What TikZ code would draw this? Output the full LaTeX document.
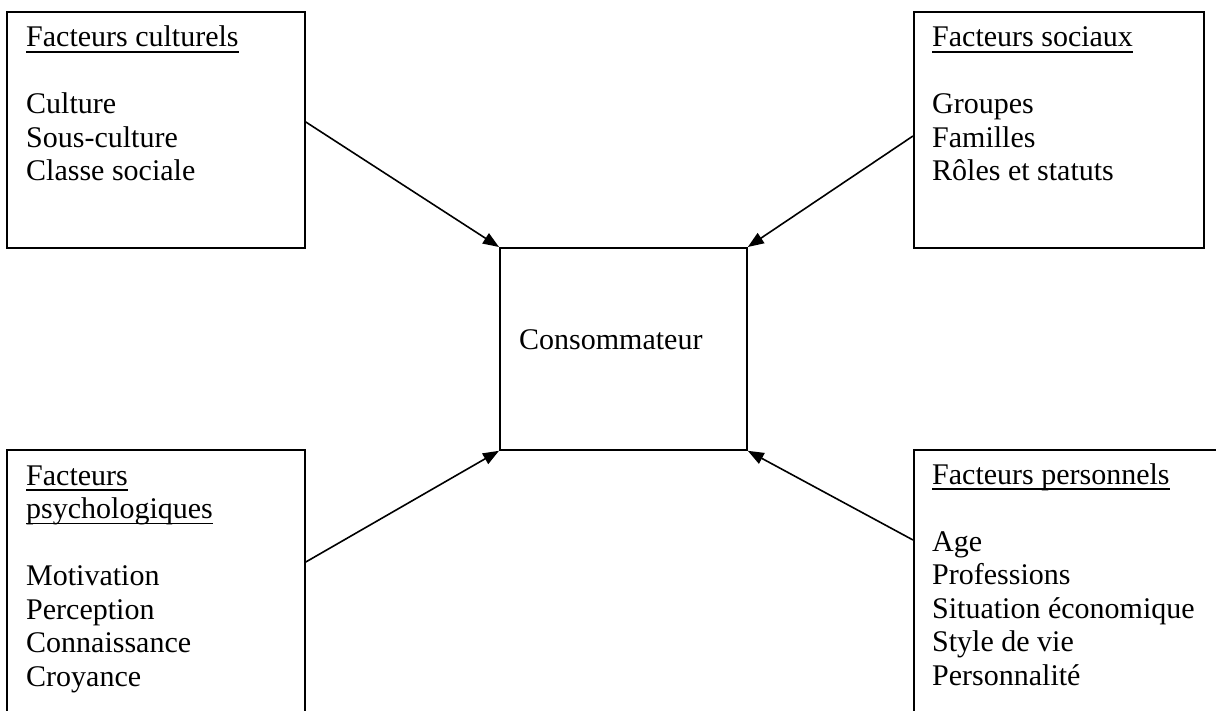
\documentclass[tikz,border=0pt]{standalone}
\usepackage{fontspec}
\setmainfont{Liberation Serif}
\newcommand{\myuline}[1]{\leavevmode\setbox0\hbox{#1}\rlap{\rule[-5.8pt]{\wd0}{1.6pt}}\box0}
\usetikzlibrary{arrows.meta,calc}
\begin{document}
\begin{tikzpicture}[x=1pt,y=-1pt,
  box/.style={draw=black, line width=1.8pt, rectangle, inner sep=0pt, anchor=north west},
  lbl/.style={anchor=base west, inner sep=0pt, font=\fontsize{30}{33.5}\selectfont},
  conn/.style={draw=black, line width=1.6pt, -{Triangle[length=16pt,width=12pt]}}]
\clip (0,0) rectangle (1216,711);
\fill[white] (0,0) rectangle (1216,711);
% boxes
\node[box, minimum width=298pt, minimum height=236pt] (cult) at (6,11) {};
\node[box, minimum width=290pt, minimum height=236pt] (soc) at (913,11) {};
\node[box, minimum width=298pt, minimum height=300pt] (psy) at (6,449) {};
\node[box, minimum width=340pt, minimum height=300pt] (pers) at (913,449) {};
\node[box, minimum width=247pt, minimum height=202pt] (cons) at (499,247) {};
% texts
\node[lbl] (cultT) at (26,47) {\parbox[t]{270pt}{\myuline{Facteurs culturels}\\\mbox{}\\Culture\\Sous-culture\\Classe sociale}};
\node[lbl] (socT) at (932,47) {\parbox[t]{260pt}{\myuline{Facteurs sociaux}\\\mbox{}\\Groupes\\Familles\\Rôles et statuts}};
\node[lbl] (psyT) at (26,485) {\parbox[t]{270pt}{\myuline{Facteurs}\\\myuline{psychologiques}\\\mbox{}\\Motivation\\Perception\\Connaissance\\Croyance}};
\node[lbl] (persT) at (932,484) {\parbox[t]{280pt}{\myuline{Facteurs personnels}\\\mbox{}\\Age\\Professions\\Situation économique\\Style de vie\\Personnalité}};
\node[lbl] (consT) at (519,350) {Consommateur};
% connectors
\draw[conn] ($(cult.north east)+(0,111)$) -- (cons.north west);
\draw[conn] ($(soc.north west)+(0,125)$) -- (cons.north east);
\draw[conn] ($(psy.north east)+(0,113)$) -- (cons.south west);
\draw[conn] ($(pers.north west)+(0,91)$) -- (cons.south east);
\end{tikzpicture}
\end{document}
